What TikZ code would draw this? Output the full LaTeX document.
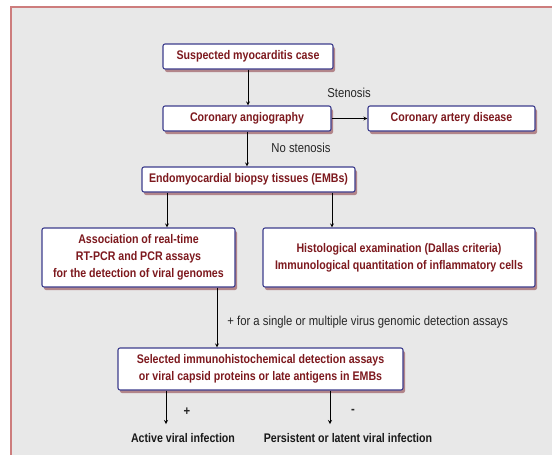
\documentclass[tikz,border=0pt]{standalone}
\usepackage{fontspec}
\setmainfont{Liberation Sans}[FakeStretch=0.85]
\newfontfamily\notefont{Liberation Sans}[FakeStretch=0.87]
\usepackage{xcolor}
\usetikzlibrary{shadows}

\definecolor{boxline}{RGB}{60,60,140}
\definecolor{boxtext}{RGB}{125,25,30}
\definecolor{framered}{RGB}{205,125,125}
\definecolor{panel}{RGB}{232,232,232}
\definecolor{shade}{RGB}{125,35,45}

\begin{document}
\begin{tikzpicture}[
            x = 1pt, y = -1pt, % one unit per pixel, y going down
            > = stealth, % arrow head style
            thick % line style
        ]

        \tikzstyle{box}=[
            draw = boxline,
            line width = 1.1pt,
            fill = white,
            rounded corners = 2pt,
            text = boxtext,
            font = \fontsize{12.5}{17}\selectfont\bfseries,
            align = center,
            inner sep = 0pt,
            drop shadow = {shadow xshift=2pt, shadow yshift=-3pt, fill=shade, opacity=0.5}
        ]
        \tikzstyle{result}=[
            font = \fontsize{12.5}{14}\selectfont\bfseries,
            text = black!90,
            inner sep = 0pt
        ]
        \tikzstyle{note}=[
            font = \notefont\fontsize{13}{15}\selectfont,
            text = black!85,
            inner sep = 0pt
        ]

        % frame
        \useasboundingbox (0,0) rectangle (552,455);
        \fill[panel] (11,7) rectangle (552,455);
        \draw[framered, line width=1.5pt] (11,455) -- (11,7) -- (552,7);

        \node[box, minimum width=170pt, minimum height=25pt] (suspect) at (248,56.5) {Suspected myocarditis case};
        \node[box, minimum width=168pt, minimum height=25pt] (angio) at (247,118.5) {Coronary angiography};
        \node[box, minimum width=167pt, minimum height=25pt] (cad) at (451.5,118.5) {Coronary artery disease};
        \node[box, minimum width=213pt, minimum height=25pt] (emb) at (248.5,179.5) {Endomyocardial biopsy tissues (EMBs)};
        \node[box, minimum width=193pt, minimum height=59pt] (pcr) at (138.5,257.5) {Association of real-time\\RT-PCR and PCR assays\\for the detection of viral genomes};
        \node[box, minimum width=272pt, minimum height=59pt] (histo) at (399,257.5) {Histological examination (Dallas criteria)\\Immunological quantitation of inflammatory cells};
        \node[box, minimum width=285pt, minimum height=42pt] (ihc) at (260.5,369) {Selected immunohistochemical detection assays\\or viral capsid proteins or late antigens in EMBs};
        \node[result] (active) at (183,438) {Active viral infection};
        \node[result] (latent) at (348,438) {Persistent or latent viral infection};

        \node[note] (sten) at (349,93) {Stenosis};
        \node[note] (nosten) at (301,148) {No stenosis};
        \node[note, anchor=west] (single) at (227,322) {+ for a single or multiple virus genomic detection assays};
        \node[note, font=\notefont\fontsize{13}{15}\selectfont\bfseries] (plus) at (187,412) {+};
        \node[note, font=\notefont\fontsize{13}{15}\selectfont\bfseries] (minus) at (353,411) {-};

        \draw[->] (suspect.south) -- (suspect.south |- angio.north);
        \draw[->] (angio.east) -- (cad.west);
        \draw[->] (angio.south) -- (angio.south |- emb.north);
        \draw[->] ([xshift=-81.5pt]emb.south) -- ([xshift=-81.5pt]emb.south |- pcr.north);
        \draw[->] ([xshift=83.5pt]emb.south) -- ([xshift=83.5pt]emb.south |- histo.north);
        \draw[->] ([xshift=78.5pt]pcr.south) -- ([xshift=78.5pt]pcr.south |- ihc.north);
        \draw[->, shorten >= 9pt] ([xshift=-94.5pt]ihc.south) -- ([xshift=-94.5pt]ihc.south |- active.north);
        \draw[->, shorten >= 9pt] ([xshift=69.5pt]ihc.south) -- ([xshift=69.5pt]ihc.south |- latent.north);
    \end{tikzpicture}
\end{document}
